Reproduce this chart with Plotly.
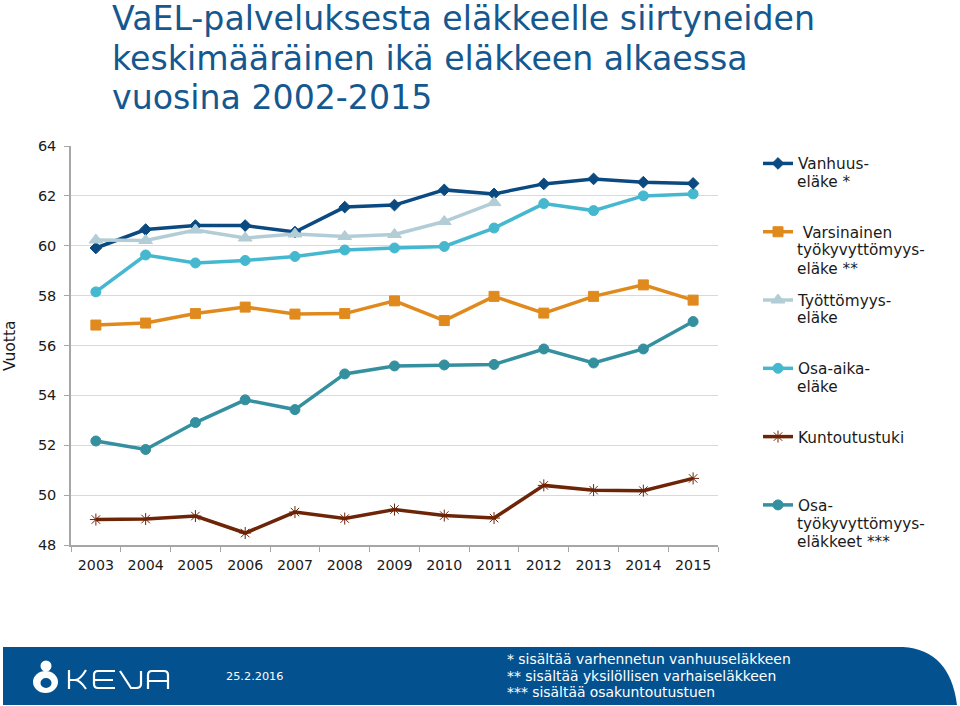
import plotly.graph_objects as go

years = ['2003', '2004', '2005', '2006', '2007', '2008', '2009', '2010', '2011', '2012', '2013', '2014', '2015']

vanhuus = [59.91, 60.65, 60.81, 60.81, 60.55, 61.55, 61.63, 62.24, 62.08, 62.48, 62.68, 62.55, 62.5]
varsinainen = [56.82, 56.9, 57.28, 57.54, 57.26, 57.28, 57.79, 57.0, 57.97, 57.3, 57.97, 58.43, 57.82]
tyottomyys = [60.23, 60.21, 60.63, 60.31, 60.47, 60.37, 60.45, 60.97, 61.73, None, None, None, None]
osa_aika = [58.15, 59.63, 59.31, 59.41, 59.57, 59.83, 59.91, 59.97, 60.71, 61.69, 61.41, 62.0, 62.08]
kuntoutus = [49.02, 49.04, 49.16, 48.48, 49.32, 49.06, 49.42, 49.18, 49.08, 50.39, 50.2, 50.18, 50.67]
osatyo = [52.17, 51.83, 52.91, 53.82, 53.43, 54.86, 55.18, 55.22, 55.24, 55.86, 55.3, 55.86, 56.96]

W, H = 960, 706
L, R, T, B = 71, 718, 146, 545
FONT = 'DejaVu Sans'
TEXT = '#1a1a1a'
BLUE = '#03528f'
AXIS = '#a6a6a6'


def px(x):
    return (x - L) / (R - L)


def py(y):
    return (B - y) / (B - T)


def pth(d):
    # d is a list of (command, x, y, ...) in page pixels, turned into paper coords
    out = []
    for seg in d:
        nums = seg[1:]
        pts = [f'{px(nums[i]):.5f},{py(nums[i + 1]):.5f}' for i in range(0, len(nums), 2)]
        out.append(seg[0] + ' '.join(pts))
    return ' '.join(out)


fig = go.Figure()

# legend order follows the picture, first line of each label lives in the legend
series = [
    (vanhuus, 'Vanhuus-', '#0b4a80', 'diamond', 9),
    (varsinainen, '\u00a0Varsinainen', '#e08a1e', 'square', 10),
    (tyottomyys, 'Työttömyys-', '#b2cdd6', 'triangle-up', 12),
    (osa_aika, 'Osa-aika-', '#45b8d0', 'circle', 10),
    (kuntoutus, 'Kuntoutustuki', '#6e2407', 'asterisk-open', 10),
    (osatyo, 'Osa-', '#348f9f', 'circle', 10),
]
draw_order = [5, 4, 1, 3, 0, 2]

for i in draw_order:
    vals, name, col, sym, size = series[i]
    fig.add_trace(go.Scatter(
        x=years, y=vals, name=name, mode='lines+markers',
        legendrank=i + 1, legendgroup=name,
        line=dict(color=col, width=3.5),
        marker=dict(symbol=sym, size=size, color=col, line=dict(color=col, width=1)),
    ))

fig.update_layout(
    width=W, height=H, autosize=False,
    margin=dict(l=L, r=W - R, t=T, b=H - B, pad=0),
    paper_bgcolor='white', plot_bgcolor='white',
    font=dict(family=FONT, size=14, color=TEXT),
    xaxis=dict(type='category', range=[-0.5, 12.5], tickson='boundaries', ticks='outside',
               ticklen=5, tickcolor=AXIS, showgrid=False, showline=True, ticklabelstandoff=6,
               linecolor=AXIS, linewidth=1.5, tickfont=dict(size=14.2, color=TEXT), zeroline=False),
    yaxis=dict(range=[48, 64], tickvals=list(range(48, 65, 2)), ticks='outside', ticklen=5,
               tickcolor=AXIS, showgrid=True, gridcolor='#d9d9d9', gridwidth=1, ticklabelstandoff=5,
               showline=True, linecolor=AXIS, linewidth=1.5, zeroline=False,
               tickfont=dict(size=14.5, color=TEXT)),
    legend=dict(x=px(758), y=py(147), xanchor='left', yanchor='top', traceorder='grouped',
                tracegroupgap=45.4, itemwidth=30, font=dict(size=15.3, color=TEXT),
                bgcolor='rgba(0,0,0,0)', borderwidth=0, itemclick=False),
    showlegend=True,
)

# footer band, right end is rounded off
fig.add_shape(type='path', xref='paper', yref='paper', layer='below', fillcolor=BLUE, line_width=0,
              path=pth([('M', 3, 647), ('L', 903, 647), ('Q', 950, 650, 957, 705), ('L', 3, 705), ('Z',)]))

# keva emblem and logotype
fig.add_shape(type='circle', xref='paper', yref='paper', x0=px(40.5), x1=px(51.5), y0=py(671.5), y1=py(660.5),
              fillcolor='white', line_width=0)
fig.add_shape(type='circle', xref='paper', yref='paper', x0=px(33), x1=px(58), y0=py(693), y1=py(671),
              fillcolor='white', line_width=0)
fig.add_shape(type='circle', xref='paper', yref='paper', x0=px(40.5), x1=px(51.5), y0=py(688), y1=py(678),
              fillcolor=BLUE, line_width=0)
logo = [
    [('M', 69, 670), ('L', 69, 689), ('M', 69, 680), ('L', 75, 680), ('Q', 80, 680, 86, 670),
     ('M', 75, 680), ('Q', 80, 680, 86, 689)],
    [('M', 115, 671), ('L', 98, 671), ('Q', 94, 671, 94, 675), ('L', 94, 684), ('Q', 94, 688, 98, 688),
     ('L', 115, 688), ('M', 94, 680), ('L', 113, 680)],
    [('M', 120, 671), ('L', 131, 688), ('L', 136, 688), ('Q', 141, 688, 141, 684), ('L', 141, 671)],
    [('M', 148, 689), ('L', 148, 675), ('Q', 148, 671, 152, 671), ('L', 164, 671), ('Q', 168, 671, 168, 675),
     ('L', 168, 689), ('M', 148, 681), ('L', 168, 681)],
]
for letter in logo:
    fig.add_shape(type='path', xref='paper', yref='paper', path=pth(letter),
                  line=dict(color='white', width=2.2))


def note(x, y, text, size=14, color=TEXT, anchor='left', angle=0):
    fig.add_annotation(xref='paper', yref='paper', x=px(x), y=py(y), text=text, showarrow=False,
                       xanchor=anchor, yanchor='middle', textangle=angle, align='left',
                       font=dict(family=FONT, size=size, color=color))


for y, line in zip((18, 58, 97), ('VaEL-palveluksesta eläkkeelle siirtyneiden',
                                  'keskimääräinen ikä eläkkeen alkaessa',
                                  'vuosina 2002-2015')):
    note(110, y, line, size=33.2, color='#14588f')

note(10, 346, 'Vuotta', size=15.5, anchor='center', angle=-90)

# rest of the wrapped legend labels
for y, line in [(182, 'eläke *'), (250, 'työkyvyttömyys-'), (269, 'eläke **'), (318, 'eläke'),
                (387, 'eläke'), (524, 'työkyvyttömyys-'), (542, 'eläkkeet ***')]:
    note(795, y, line, size=15.3)

note(224, 676, '25.2.2016', size=11.3, color='white')
note(505, 659, '* sisältää varhennetun vanhuuseläkkeen', size=13.9, color='white')
note(505, 676, '** sisältää yksilöllisen varhaiseläkkeen', size=13.9, color='white')
note(505, 692, '*** sisältää osakuntoutustuen', size=13.9, color='white')

# the page's default body margin would push the figure 8px down and right
fig.write_html('out.html', config={'displayModeBar': False},
               post_script="document.body.style.margin='0';")
